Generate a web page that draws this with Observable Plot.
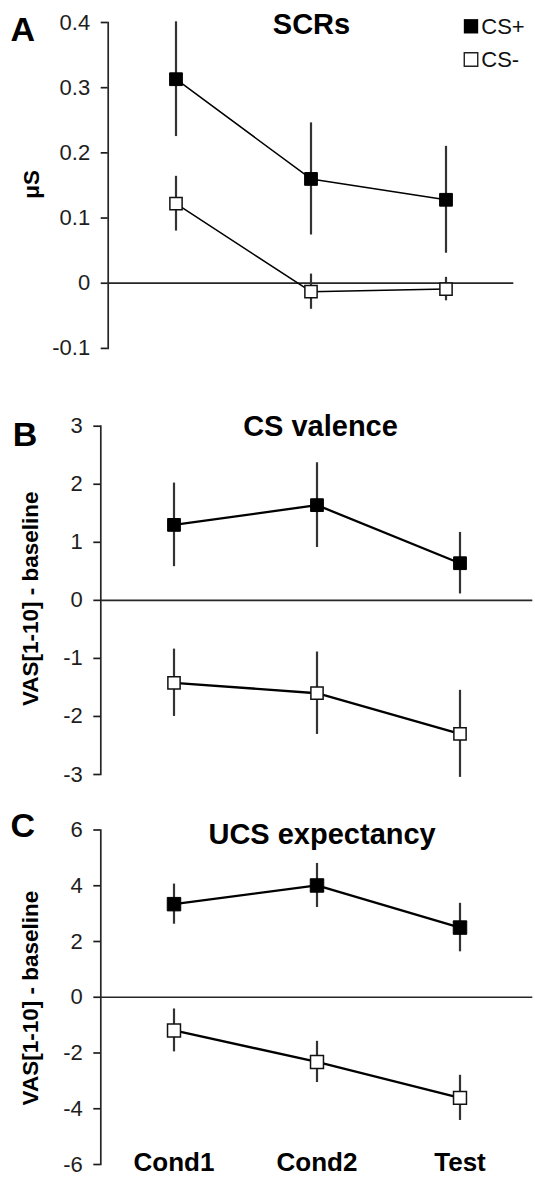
<!DOCTYPE html>
<html><head><meta charset="utf-8">
<script src="https://cdn.jsdelivr.net/npm/d3@7"></script>
<script src="https://cdn.jsdelivr.net/npm/@observablehq/plot@0.6"></script>
<style>
html,body{margin:0;padding:0;background:#fff;}
#wrap{position:relative;width:535px;height:1177px;overflow:hidden;font-family:"Liberation Sans",Arial,sans-serif;}
#wrap svg{position:absolute;left:0;}
</style></head><body><div id="wrap"></div>
<script>
// ---- data ----
const conditions = ["Cond1", "Cond2", "Test"];
const stimuli = ["CS+", "CS-"];

// Panel A: SCRs (µS)
const scrPlusMean = [0.313, 0.160, 0.128];
const scrPlusErr = [0.088, 0.086, 0.082];
const scrMinusMean = [0.122, -0.013, -0.009];
const scrMinusErr = [0.042, 0.027, 0.018];
const scrTicks = [-0.1, 0, 0.1, 0.2, 0.3, 0.4];

// Panel B: CS valence
const valPlusMean = [1.30, 1.64, 0.64];
const valPlusErr = [0.72, 0.73, 0.53];
const valMinusMean = [-1.42, -1.60, -2.30];
const valMinusErr = [0.58, 0.71, 0.75];
const valTicks = [-3, -2, -1, 0, 1, 2, 3];

// Panel C: UCS expectancy
const ucsPlusMean = [3.34, 4.01, 2.50];
const ucsPlusErr = [0.72, 0.79, 0.87];
const ucsMinusMean = [-1.19, -2.32, -3.61];
const ucsMinusErr = [0.77, 0.74, 0.81];
const ucsTicks = [-6, -4, -2, 0, 2, 4, 6];

function rows(pm, pe, mm, me) {
  const out = [];
  conditions.forEach((c, i) => out.push({cond: c, stim: stimuli[0], mean: pm[i], err: pe[i]}));
  conditions.forEach((c, i) => out.push({cond: c, stim: stimuli[1], mean: mm[i], err: me[i]}));
  return out;
}

function panel(cfg) {
  const data = rows(cfg.pm, cfg.pe, cfg.mm, cfg.me);
  const plus = data.filter(d => d.stim === stimuli[0]);
  const minus = data.filter(d => d.stim === stimuli[1]);
  const marks = [
    Plot.frame({anchor: "left", stroke: "#262626", strokeWidth: 1.7}),
    Plot.axisY({ticks: cfg.ticks, tickFormat: cfg.fmt, tickSize: 7, tickPadding: 11,
      fontSize: 22, label: null, strokeWidth: 1.7}),
    Plot.ruleY([0], {stroke: "#262626", strokeWidth: 1.7}),
    Plot.ruleX(data, {x: "cond", y1: d => d.mean - d.err, y2: d => d.mean + d.err,
      stroke: "#333", strokeWidth: 2.2}),
    Plot.line(data, {x: "cond", y: "mean", z: "stim", stroke: "#000", strokeWidth: cfg.lw}),
    Plot.dot(plus, {x: "cond", y: "mean", symbol: "square", r: cfg.r, fill: "#000", stroke: "#000", strokeWidth: 1}),
    Plot.dot(minus, {x: "cond", y: "mean", symbol: "square", r: cfg.r - 0.3, fill: "#fff", stroke: "#111", strokeWidth: 1.5}),
    Plot.text([cfg.title], {frameAnchor: "top", lineAnchor: "bottom", dx: cfg.tdx, dy: cfg.tdy,
      fontSize: 29, fontWeight: "bold", fill: "#000"}),
    Plot.text([cfg.letter], {frameAnchor: "top-left", textAnchor: "start", lineAnchor: "bottom",
      dx: cfg.ldx, dy: cfg.ldy, fontSize: 34, fontWeight: "bold", fill: "#000"}),
    Plot.text([cfg.ylabel], {frameAnchor: "left", textAnchor: "middle", rotate: -90, dx: cfg.ydx, dy: cfg.ydy,
      fontSize: 22.5, fontWeight: "bold", fill: "#000"})
  ];
  if (cfg.legend) {
    marks.push(
      Plot.dot([stimuli[0]], {frameAnchor: "top-right", dx: -42.8, dy: 3.8, symbol: "square", r: 8.1, fill: "#000"}),
      Plot.dot([stimuli[1]], {frameAnchor: "top-right", dx: -42.8, dy: 37, symbol: "square", r: 7.6, fill: "#fff", stroke: "#222", strokeWidth: 1.4}),
      Plot.text([stimuli[0]], {frameAnchor: "top-right", textAnchor: "start", lineAnchor: "bottom", dx: -32.5, dy: 11.3, fontSize: 22, fill: "#111"}),
      Plot.text([stimuli[1]], {frameAnchor: "top-right", textAnchor: "start", lineAnchor: "bottom", dx: -32.5, dy: 44.5, fontSize: 22, fill: "#111"})
    );
  }
  if (cfg.xlabels) {
    marks.push(Plot.text(conditions, {x: d => d, frameAnchor: "bottom", lineAnchor: "bottom", dy: 6,
      fontSize: 26, fontWeight: "bold", fill: "#000"}));
  }
  const svg = Plot.plot({
    width: 535, height: cfg.height,
    marginTop: cfg.mt, marginBottom: cfg.mb, marginLeft: cfg.ml, marginRight: cfg.mr,
    x: {type: "band", domain: conditions, padding: 0, axis: null},
    y: {domain: cfg.domain},
    style: {fontFamily: '"Liberation Sans", Arial, sans-serif', color: "#1e1e1e", background: "transparent", overflow: "visible"},
    marks
  });
  svg.style.top = cfg.top + "px";
  document.getElementById("wrap").appendChild(svg);
}

panel({top: 0, height: 360, mt: 22, mb: 12.1, ml: 107.7, mr: 21.7, domain: [-0.1, 0.4],
  ticks: scrTicks, fmt: d => d === 0 ? "0" : d.toFixed(1),
  pm: scrPlusMean, pe: scrPlusErr, mm: scrMinusMean, me: scrMinusErr,
  r: 7.2, lw: 1.5, title: "SCRs", tdx: 0.5, tdy: 11.3, letter: "A", ldx: -97.7, ldy: 18,
  ylabel: "μS", ydx: -76.7, ydy: -1, legend: true});

panel({top: 360, height: 430, mt: 65.7, mb: 16, ml: 100.3, mr: 2.7, domain: [-3, 3],
  ticks: valTicks, fmt: d => String(d),
  pm: valPlusMean, pe: valPlusErr, mm: valMinusMean, me: valMinusErr,
  r: 7.2, lw: 2.3, title: "CS valence", tdx: 3.7, tdy: 9.3, letter: "B", ldx: -88, ldy: 19.3,
  ylabel: "VAS[1-10] - baseline", ydx: -69.8, ydy: -1.6});

panel({top: 790, height: 387, mt: 39.5, mb: 13, ml: 100.3, mr: 2.7, domain: [-6, 6],
  ticks: ucsTicks, fmt: d => String(d),
  pm: ucsPlusMean, pe: ucsPlusErr, mm: ucsMinusMean, me: ucsMinusErr,
  r: 7.6, lw: 2.3, title: "UCS expectancy", tdx: 5.3, tdy: 13.8, letter: "C", ldx: -90.3, ldy: 7.2,
  ylabel: "VAS[1-10] - baseline", ydx: -69.8, ydy: 0.8, xlabels: true});
</script>
</body></html>
